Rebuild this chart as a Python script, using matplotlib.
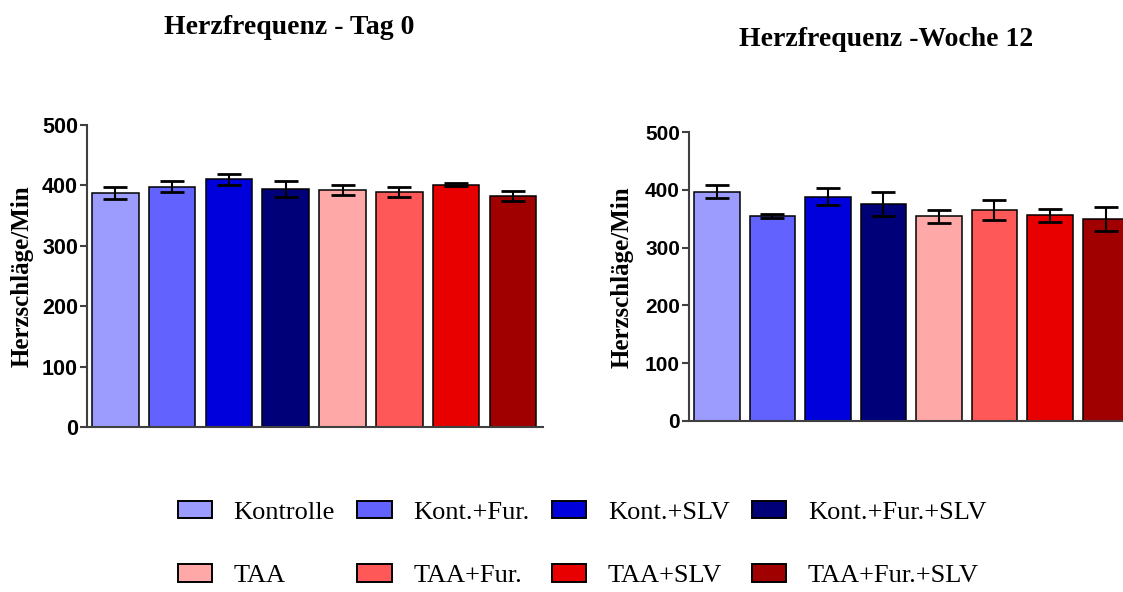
import matplotlib
matplotlib.use("Agg")
import matplotlib.pyplot as plt
from matplotlib.patches import Patch

# groups, colours and values
groups = ["Kontrolle", "Kont.+Fur.", "Kont.+SLV", "Kont.+Fur.+SLV",
          "TAA", "TAA+Fur.", "TAA+SLV", "TAA+Fur.+SLV"]
colors = ["#9C9CFF", "#6262FF", "#0000DC", "#000078",
          "#FFA8A8", "#FF5858", "#E80000", "#A00000"]

tag0_mean = [387, 398, 410, 394, 393, 389, 401, 383]
tag0_err = [10, 8.6, 8.6, 12.5, 8.3, 9, 2.5, 8.3]

woche12_mean = [397, 355, 388, 376, 354, 365, 356, 350]
woche12_err = [11.5, 3.5, 14.7, 21, 11, 16.7, 11, 21]

titles = ["Herzfrequenz - Tag 0", "Herzfrequenz -Woche 12"]
ylabel = "Herzschläge/Min"
yticks = [0, 100, 200, 300, 400, 500]

SERIF = ["Liberation Serif", "DejaVu Serif"]
SANS = ["Liberation Sans", "DejaVu Sans"]
AXIS_GREY = "#404040"

W, H = 1123, 592
fig = plt.figure(figsize=(W / 100, H / 100), dpi=100)


def px_axes(x0, x1, y_top, y_bot):
    # axes rectangle given in pixel coordinates of the figure
    return fig.add_axes([x0 / W, 1 - y_bot / H, (x1 - x0) / W, (y_bot - y_top) / H])


def draw_panel(ax, means, errs, tick_size):
    xs = list(range(len(means)))
    ax.bar(xs, means, width=0.82, color=colors, edgecolor="black", linewidth=1.1, zorder=2)
    ax.errorbar(xs, means, yerr=errs, fmt="none", ecolor="black", elinewidth=1.5,
                capsize=8.5, capthick=2, zorder=3)
    ax.set_xlim(-0.5, 7.53)
    ax.set_ylim(0, 500)
    ax.set_yticks(yticks)
    ax.set_xticks([])
    for side in ("top", "right"):
        ax.spines[side].set_visible(False)
    for side in ("left", "bottom"):
        ax.spines[side].set_color(AXIS_GREY)
        ax.spines[side].set_linewidth(1.5)
    ax.tick_params(axis="y", direction="out", length=5, width=1.5, color=AXIS_GREY, pad=1.5)
    for lab in ax.get_yticklabels():
        lab.set_fontfamily(SANS)
        lab.set_fontweight("bold")
        lab.set_fontsize(tick_size)


ax1 = px_axes(87, 543, 125, 427)
draw_panel(ax1, tag0_mean, tag0_err, 15.5)

ax2 = px_axes(689, 1135, 132, 421)
draw_panel(ax2, woche12_mean, woche12_err, 15)

# titles and y labels
fig.text(289 / W, 1 - 28 / H, titles[0], ha="center", va="center",
         family=SERIF, fontweight="bold", fontsize=20)
fig.text(886 / W, 1 - 40 / H, titles[1], ha="center", va="center",
         family=SERIF, fontweight="bold", fontsize=20)
fig.text(22 / W, 1 - 276 / H, ylabel, rotation=90, ha="center", va="center",
         family=SERIF, fontweight="bold", fontsize=18)
fig.text(622 / W, 1 - 277 / H, ylabel, rotation=90, ha="center", va="center",
         family=SERIF, fontweight="bold", fontsize=18)

# legend: 2 rows x 4 columns, matplotlib fills column by column
handles = [Patch(facecolor=c, edgecolor="black", linewidth=1.4) for c in colors]
order = [0, 4, 1, 5, 2, 6, 3, 7]
fig.legend([handles[i] for i in order], [groups[i] for i in order],
           ncol=4, loc="center", bbox_to_anchor=(582 / W, 1 - 544 / H),
           frameon=False, prop={"family": SERIF, "size": 19},
           handlelength=1.3, handleheight=0.64, handletextpad=0.82,
           columnspacing=0.85, labelspacing=1.55, borderpad=0)

fig.savefig("out.png", dpi=100)
